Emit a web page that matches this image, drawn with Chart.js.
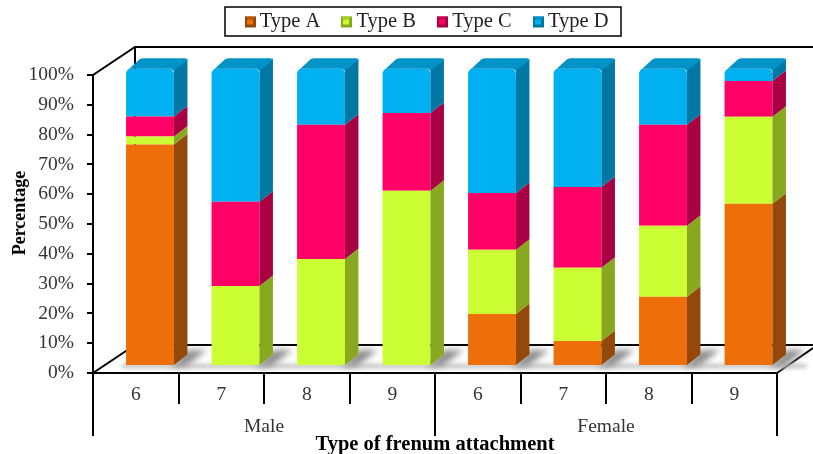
<!DOCTYPE html>
<html lang="en">
<head>
  <meta charset="UTF-8">
  <title>Type of frenum attachment</title>
  <script src="https://cdn.jsdelivr.net/npm/chart.js"></script>
  <style>
    html, body { margin: 0; padding: 0; background: #fff; }
    canvas { display: block; }
  </style>
</head>
<body>
  <canvas id="grafico" width="813" height="454"></canvas>
  <script>
    const categories = ["6", "7", "8", "9", "6", "7", "8", "9"];
    const groups = ["Male", "Female"];
    const tickLabels = ["0%", "10%", "20%", "30%", "40%", "50%", "60%", "70%", "80%", "90%", "100%"];
    const typeA = [74.4, 0, 0, 0, 17.2, 8.1, 23, 54.4];
    const typeB = [2.7, 26.7, 35.8, 58.8, 21.7, 24.7, 24, 29.4];
    const typeC = [6.8, 28.4, 45.3, 26.3, 19.2, 27.3, 34.1, 12.1];
    const typeD = [16.1, 44.9, 18.9, 14.9, 41.9, 39.9, 18.9, 4.1];

    const serif = "'Liberation Serif', serif";
    const frente = ["#ee6f0a", "#ccff33", "#ff0066", "#00b0f0"];
    const lado = ["#94490a", "#88a820", "#a80042", "#0078a3"];
    const topo = ["#b85808", "#a6cc28", "#cc0052", "#0093c8"];
    const prof = { x: 13.5, y: -10.5 };   // bar depth
    const desloc = { x: 14.25, y: -8 };   // bars stand in the middle of the floor

    function poligono(ctx, pts, cor) {
      ctx.fillStyle = cor;
      ctx.beginPath();
      pts.forEach((p, i) => i ? ctx.lineTo(p[0], p[1]) : ctx.moveTo(p[0], p[1]));
      ctx.closePath();
      ctx.fill();
    }

    const legendaAjuste = {
      id: "legendaAjuste",
      beforeInit(chart) {
        // legend keeps the room above the plot
        const fit = chart.legend.fit;
        chart.legend.fit = function () {
          fit.call(this);
          this.height = 75;
        };
      },
      afterLayout(chart) {
        const l = chart.legend;
        l.left += 35;
        l.right += 35;
        l.top -= 4;
      }
    };

    const paredes = {
      id: "paredes",
      beforeDatasetsDraw(chart) {
        const { ctx, chartArea: a } = chart;
        const dx = 42, dy = -28;
        ctx.save();
        ctx.strokeStyle = "#000";
        ctx.lineWidth = 2;
        ctx.beginPath();
        ctx.moveTo(a.left, a.top);
        ctx.lineTo(a.left + dx, a.top + dy);
        ctx.lineTo(chart.width, a.top + dy);
        ctx.moveTo(a.left + dx, a.top + dy);
        ctx.lineTo(a.left + dx, a.bottom + dy);
        ctx.moveTo(a.left, a.bottom);
        ctx.lineTo(a.left + dx, a.bottom + dy);
        ctx.lineTo(chart.width, a.bottom + dy);
        ctx.moveTo(a.right, a.bottom);
        ctx.lineTo(chart.width, a.bottom - 25);
        ctx.stroke();
        ctx.restore();

        // shadow of each bar on the floor
        ctx.save();
        const base = chart.scales.yBar.getPixelForValue(0) + desloc.y;
        chart.getDatasetMeta(3).data.forEach(el => {
          const dir = el.x + el.width / 2 + desloc.x, esq = el.x - el.width / 2 + desloc.x;
          ctx.filter = "blur(2px)";
          poligono(ctx, [[esq - 4, base - 1], [dir + 34, base - 1], [dir + 34, base + 3], [esq - 4, base + 3]], "#bcbcbc");
          ctx.filter = "blur(3px)";
          poligono(ctx, [[dir - 4, base + 2], [dir + 14, base - 15], [dir + 33, base - 15], [dir + 12, base + 1]], "#8c8c8c");
        });
        ctx.restore();

        ctx.save();
        ctx.translate(desloc.x, desloc.y);
      },
      afterDatasetsDraw(chart) {
        const { ctx } = chart;
        chart.data.datasets.forEach((ds, i) => {
          chart.getDatasetMeta(i).data.forEach(el => {
            if (Math.abs(el.base - el.y) < 0.5) return;
            const r = el.x + el.width / 2, l = el.x - el.width / 2;
            poligono(ctx, [[r, el.y], [r + prof.x, el.y + prof.y], [r + prof.x, el.base + prof.y], [r, el.base]], lado[i]);
            if (i === 3) {
              poligono(ctx, [[l + 1, el.y + 2], [l + prof.x, el.y + prof.y + 1], [l + prof.x + 3, el.y + prof.y], [r + prof.x - 2, el.y + prof.y], [r + prof.x, el.y + prof.y + 2], [r, el.y + 2], [r - 3, el.y], [l + 4, el.y]], topo[i]);
            }
          });
        });
        ctx.restore();

        // legend frame and bevelled markers
        ctx.save();
        ctx.strokeStyle = "#000";
        ctx.lineWidth = 1.5;
        ctx.strokeRect(225, 7, 396, 29);
        frente.forEach((cor, i) => {
          const x = 245 + i * 96, y = 16.5, s = 11;
          ctx.fillStyle = lado[i];
          ctx.fillRect(x, y, s, s);
          poligono(ctx, [[x, y], [x + s, y], [x + s - 3, y + 3], [x + 3, y + 3]], topo[i]);
          ctx.fillStyle = cor;
          ctx.fillRect(x + 2, y + 3, s - 5, s - 6);
        });
        ctx.restore();

        // y axis title sits a little above the middle of the axis
        ctx.save();
        ctx.translate(20, 213);
        ctx.rotate(-Math.PI / 2);
        ctx.font = "bold 18px " + serif;
        ctx.fillStyle = "#000";
        ctx.textAlign = "center";
        ctx.textBaseline = "middle";
        ctx.fillText("Percentage", 0, 0);
        ctx.restore();
      }
    };

    const ctx = document.getElementById("grafico").getContext("2d");
    const grafico = new Chart(ctx, {
      type: "bar",
      data: {
        labels: categories,
        datasets: [
          { label: "Type A", data: typeA, backgroundColor: frente[0] },
          { label: "Type B", data: typeB, backgroundColor: frente[1] },
          { label: "Type C", data: typeC, backgroundColor: frente[2] },
          { label: "Type D", data: typeD, backgroundColor: frente[3], borderRadius: { topLeft: 5, topRight: 5 }, borderSkipped: false }
        ].map(d => ({ ...d, yAxisID: "yBar", barPercentage: 0.56, categoryPercentage: 1 }))
      },
      options: {
        responsive: false,
        animation: false,
        layout: { padding: { top: 0, right: 36, bottom: 0, left: 0 } },
        plugins: {
          tooltip: { enabled: false },
          legend: {
            position: "top",
            labels: {
              boxWidth: 11,
              boxHeight: 11,
              padding: 15,
              color: "#222",
              font: { family: serif, size: 20.5 },
              generateLabels(chart) {
                const itens = Chart.defaults.plugins.legend.labels.generateLabels(chart);
                itens.forEach(it => { it.fillStyle = "rgba(0,0,0,0)"; it.lineWidth = 0; });
                return itens;
              }
            }
          }
        },
        scales: {
          x: {
            stacked: true,
            offset: true,
            afterFit(s) { s.height = 31; },
            grid: { offset: true, drawOnChartArea: false, tickLength: 31, tickColor: "#000", lineWidth: 2 },
            border: { color: "#000", width: 2 },
            ticks: { padding: -21, color: "#333", font: { family: serif, size: 19.5 }, maxRotation: 0, autoSkip: false }
          },
          xGroup: {
            type: "category",
            position: "bottom",
            labels: groups,
            offset: true,
            afterFit(s) { s.height = 50; },
            grid: { offset: true, drawOnChartArea: false, tickLength: 32, tickColor: "#000", lineWidth: 2 },
            border: { display: false },
            ticks: { padding: -21, color: "#333", font: { family: serif, size: 19.5 }, maxRotation: 0, autoSkip: false },
            title: { display: true, text: "Type of frenum attachment", color: "#000", font: { family: serif, size: 20.5, weight: "bold" }, padding: { top: 0, bottom: -3 } }
          },
          y: {
            position: "left",
            min: 0,
            max: 100,
            afterFit(s) { s.width = 93; },
            grid: { drawOnChartArea: false, tickLength: 6, tickColor: "#000", lineWidth: 2 },
            border: { color: "#000", width: 2 },
            ticks: {
              stepSize: 10,
              padding: 13,
              color: "#333",
              font: { family: serif, size: 19.5 },
              callback: (v, i) => tickLabels[i]
            }
          },
          yBar: { display: false, stacked: true, min: 0, max: 100.6 }
        }
      },
      plugins: [legendaAjuste, paredes]
    });
  </script>
</body>
</html>
